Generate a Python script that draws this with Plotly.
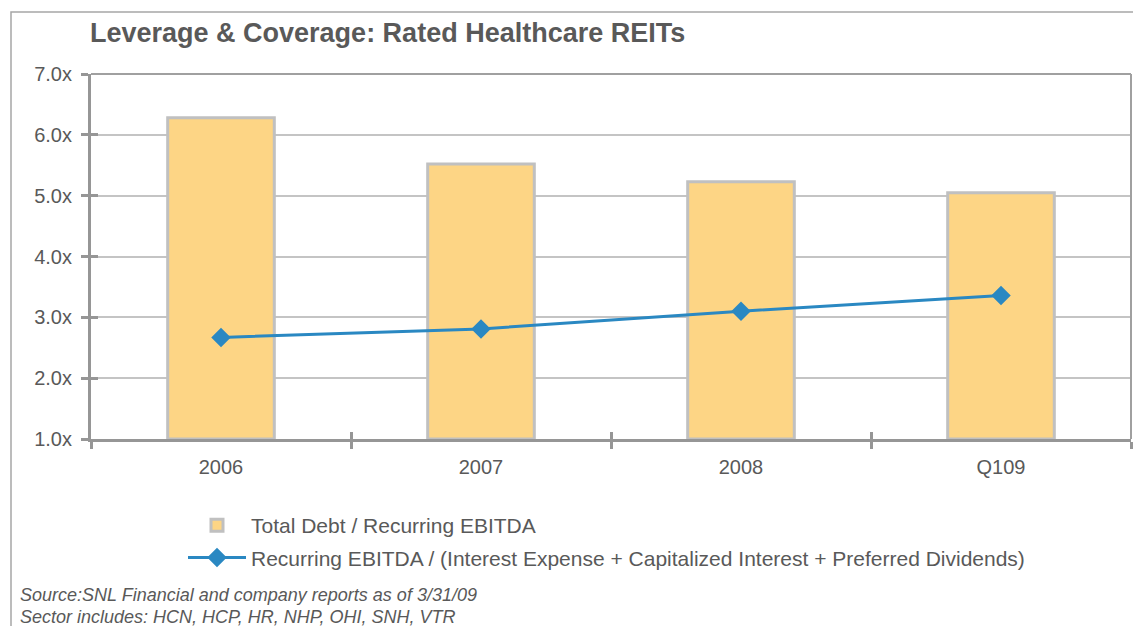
import plotly.graph_objects as go

categories = ["2006", "2007", "2008", "Q109"]
debt_to_ebitda = [6.28, 5.52, 5.23, 5.05]
coverage = [2.67, 2.81, 3.10, 3.36]
y_ticks = [1, 2, 3, 4, 5, 6, 7]
y_tick_labels = ["1.0x", "2.0x", "3.0x", "4.0x", "5.0x", "6.0x", "7.0x"]

TXT = "#595959"
FONT = "Liberation Sans, Arial, sans-serif"

# page body has an 8px margin; figure coordinates = page coordinates - 8
W, H = 1133, 618
L, R, T, B = 83, 10, 66, 187
PW, PH = W - L - R, H - T - B


def px(x):
    return (x - 8 - L) / PW


def py(y):
    return 1 - (y - 8 - T) / PH


fig = go.Figure()
fig.add_trace(go.Bar(
    x=categories, y=[v - 1 for v in debt_to_ebitda], base=1,
    name="Total Debt / Recurring EBITDA",
    marker=dict(color="#FDD585", line=dict(color="#C0C0C0", width=3)),
    width=0.41, legendgroup="a", hoverinfo="skip",
))
fig.add_trace(go.Scatter(
    x=categories, y=coverage, mode="lines+markers",
    name="Recurring EBITDA / (Interest Expense + Capitalized Interest + Preferred Dividends)",
    line=dict(color="#2A88C2", width=3),
    marker=dict(symbol="diamond", size=15, color="#2A88C2"),
    legendgroup="b",
))
# invisible trace for inner ticks overlay
fig.add_trace(go.Scatter(x=categories, y=coverage, xaxis="x2", yaxis="y2",
                         mode="markers", marker=dict(opacity=0), showlegend=False,
                         hoverinfo="skip"))

fig.update_layout(
    width=W, height=H,
    margin=dict(l=L, r=R, t=T, b=B),
    paper_bgcolor="white", plot_bgcolor="white",
    font=dict(family=FONT, color=TXT, size=20),
    title=dict(text="<b>Leverage & Coverage: Rated Healthcare REITs</b>",
               x=(90 - 8) / W, xanchor="left", y=1 - (33 - 8) / H, yanchor="middle",
               font=dict(size=27, color=TXT, family=FONT)),
    showlegend=True,
    legend=dict(x=px(183), xanchor="left", y=py(505), yanchor="top",
                font=dict(size=21, color=TXT), tracegroupgap=2,
                itemwidth=58, bgcolor="rgba(0,0,0,0)"),
    xaxis=dict(type="category", showline=True, linecolor="#969696", linewidth=3,
               ticks="outside", tickson="boundaries", ticklen=7, tickwidth=3,
               tickcolor="#969696", showgrid=False, ticklabelstandoff=8,
               tickfont=dict(size=20, color=TXT), range=[-0.5, 3.5]),
    yaxis=dict(range=[1, 7], tickvals=y_ticks, ticktext=y_tick_labels,
               showline=True, linecolor="#969696", linewidth=3,
               ticks="outside", ticklen=7, tickwidth=3, tickcolor="#969696",
               showgrid=True, gridcolor="#C4C4C4", gridwidth=1.5,
               ticklabelstandoff=5,
               zeroline=False, tickfont=dict(size=20, color=TXT)),
    xaxis2=dict(type="category", overlaying="x", range=[-0.5, 3.5],
                ticks="inside", tickson="boundaries", ticklen=7, tickwidth=3,
                tickcolor="#969696", showticklabels=False, showgrid=False,
                showline=False, side="bottom", anchor="y2"),
    yaxis2=dict(overlaying="y", range=[1, 7], tickvals=y_ticks, ticks="inside",
                ticklen=7, tickwidth=3, tickcolor="#969696",
                showticklabels=False, showgrid=False, showline=False,
                zeroline=False, side="left", anchor="x2"),
    bargap=0.59,
)

# plot-area right and top border
fig.add_shape(type="line", xref="paper", yref="paper", x0=1, x1=1, y0=0, y1=1,
              line=dict(color="#A0A0A0", width=2))
fig.add_shape(type="line", xref="paper", yref="paper", x0=0, x1=1, y0=1, y1=1,
              line=dict(color="#A0A0A0", width=2))
# outer chart border
fig.add_shape(type="rect", xref="paper", yref="paper",
              x0=px(11), x1=px(1160), y0=py(660), y1=py(12),
              line=dict(color="#A6A6A6", width=1.5), layer="below")

fig.add_annotation(text="<i>Source:SNL Financial and company reports as of 3/31/09</i>",
                   xref="paper", yref="paper", x=px(18), y=py(595),
                   xanchor="left", yanchor="middle",
                   showarrow=False, font=dict(size=18, color=TXT, family=FONT))
fig.add_annotation(text="<i>Sector includes: HCN, HCP, HR, NHP, OHI, SNH, VTR</i>",
                   xref="paper", yref="paper", x=px(18), y=py(617),
                   xanchor="left", yanchor="middle",
                   showarrow=False, font=dict(size=18, color=TXT, family=FONT))

fig.write_html("out.html")
